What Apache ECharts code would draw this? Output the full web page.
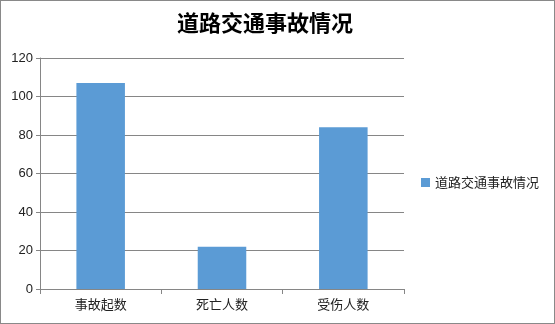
<!DOCTYPE html>
<html><head><meta charset="utf-8">
<script src="https://cdn.jsdelivr.net/npm/echarts@6/dist/echarts.min.js"></script>
<style>html,body{margin:0;padding:0;background:#fff}
#c{position:absolute;left:0;top:0;width:553px;height:322px;border:1px solid #898989;}
</style></head><body><div id="c"></div>
<script>
const title = '道路交通事故情况';
const categories = ['事故起数', '死亡人数', '受伤人数'];
const values = [107, 22, 84];
const yTicks = { min: 0, max: 120, interval: 20 };
const font = '"Microsoft YaHei","Noto Sans CJK SC",sans-serif';
const chart = echarts.init(document.getElementById('c'));
chart.setOption({
  animation: false,
  title: { text: title, left: 171, top: 6, textStyle: { fontSize: 22, fontWeight: 'bold', color: '#000', fontFamily: font } },
  legend: { orient: 'vertical', left: 415, top: 170, itemWidth: 9, itemHeight: 9, itemGap: 5, icon: 'rect',
    textStyle: { fontSize: 13, color: '#222', fontFamily: font } },
  grid: { left: 39, right: 150, top: 57, bottom: 34 },
  xAxis: { type: 'category', data: categories,
    axisLine: { lineStyle: { color: '#868686' } },
    axisTick: { show: true, length: 5, lineStyle: { color: '#868686' } },
    axisLabel: { fontSize: 13, color: '#222', margin: 9, fontFamily: font } },
  yAxis: { type: 'value', min: yTicks.min, max: yTicks.max, interval: yTicks.interval,
    axisLine: { show: true, lineStyle: { color: '#868686' } },
    axisTick: { show: true, length: 4, lineStyle: { color: '#868686' } },
    splitLine: { lineStyle: { color: '#868686' } },
    axisLabel: { fontSize: 13, color: '#222', margin: 7, fontFamily: 'Arial, "Liberation Sans", sans-serif' } },
  series: [{ name: title, type: 'bar', data: values, barCategoryGap: '60%', itemStyle: { color: '#5b9bd5' } }]
});
</script></body></html>
